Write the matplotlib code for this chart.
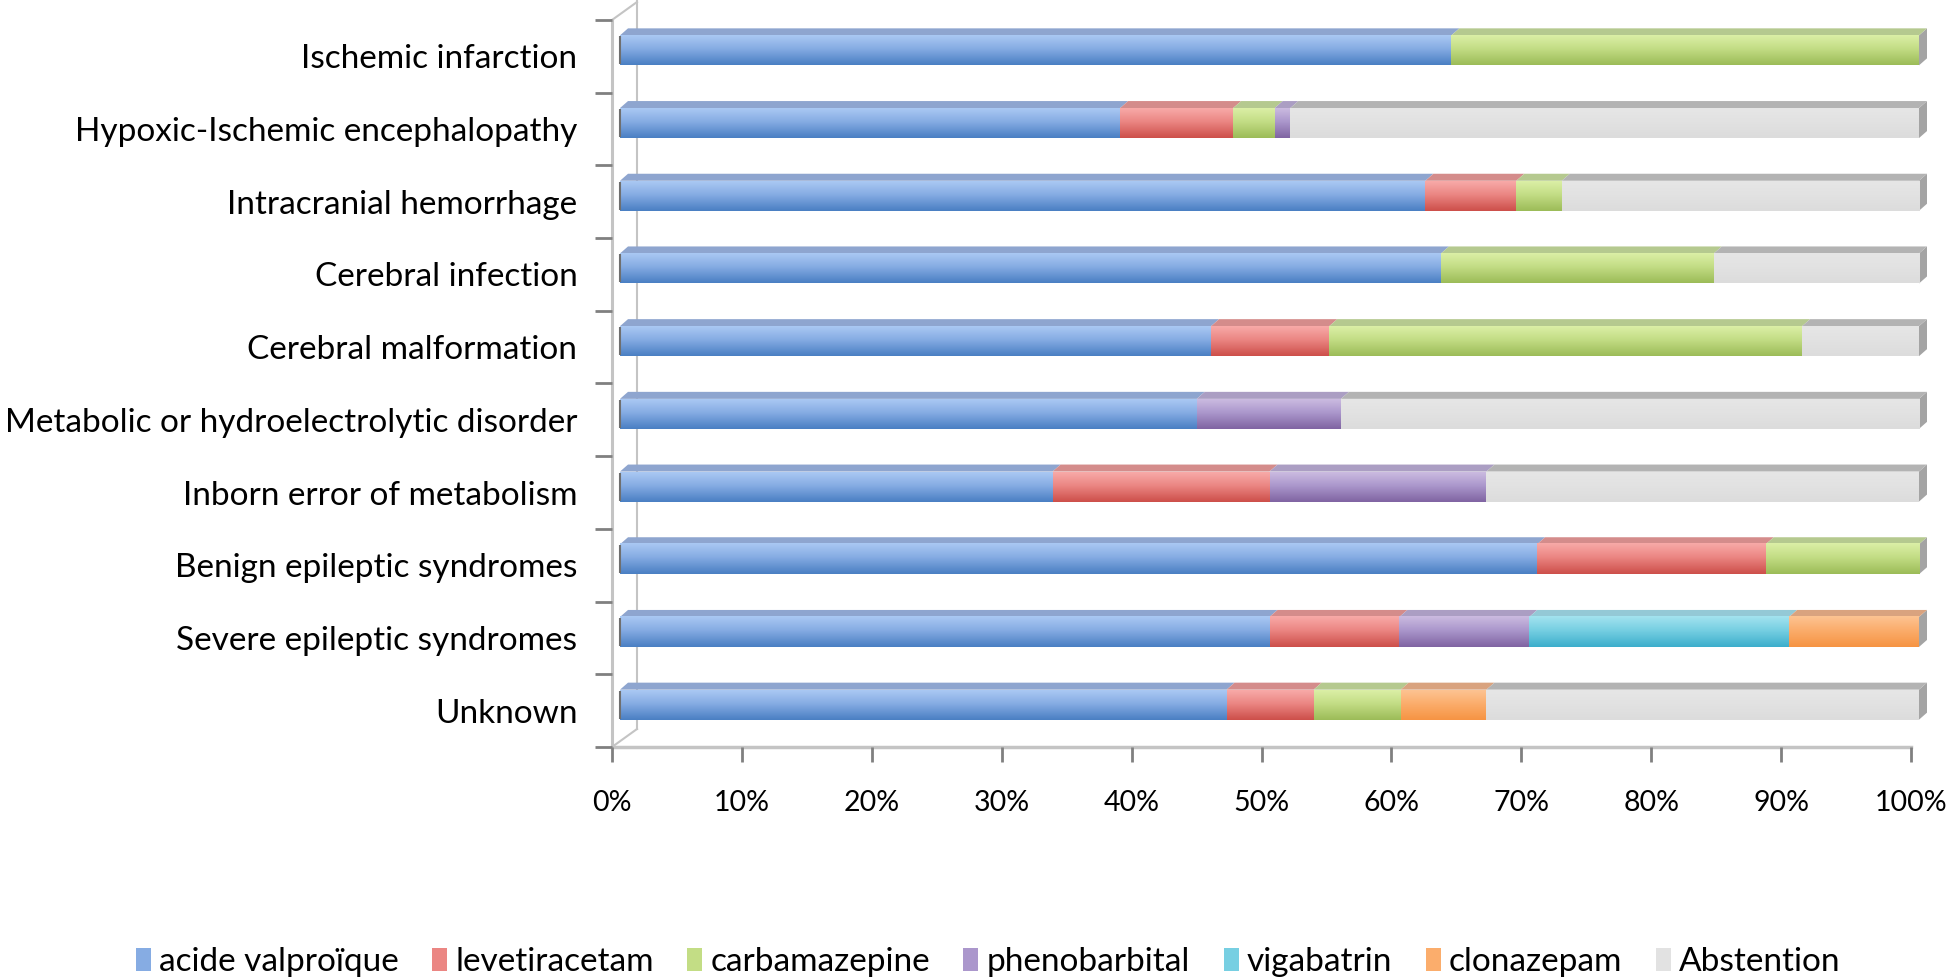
import numpy as np
import matplotlib
matplotlib.use("Agg")
import matplotlib.pyplot as plt
from matplotlib.colors import LinearSegmentedColormap
from matplotlib.patches import Polygon, Patch

plt.rcParams["font.family"] = ["Lato", "DejaVu Sans"]

# ---- data (percent of patients per etiology) ----
categories = [
    "Ischemic infarction",
    "Hypoxic-Ischemic encephalopathy",
    "Intracranial hemorrhage",
    "Cerebral infection",
    "Cerebral malformation",
    "Metabolic or hydroelectrolytic disorder",
    "Inborn error of metabolism",
    "Benign epileptic syndromes",
    "Severe epileptic syndromes",
    "Unknown",
]
valproate     = [64.0, 38.5, 62.0, 63.2, 45.5, 44.4, 33.3, 70.6, 50.0, 46.7]
levetiracetam = [0.0,  8.7,  7.0,  0.0,  9.1,  0.0, 16.7, 17.6, 10.0,  6.7]
carbamazepine = [36.0, 3.2,  3.5, 21.0, 36.4,  0.0,  0.0, 11.8,  0.0,  6.7]
phenobarbital = [0.0,  1.2,  0.0,  0.0,  0.0, 11.1, 16.7,  0.0, 10.0,  0.0]
vigabatrin    = [0.0,  0.0,  0.0,  0.0,  0.0,  0.0,  0.0,  0.0, 20.0,  0.0]
clonazepam    = [0.0,  0.0,  0.0,  0.0,  0.0,  0.0,  0.0,  0.0, 10.0,  6.6]
abstention    = [0.0, 48.4, 27.5, 15.8,  9.0, 44.5, 33.3,  0.0,  0.0, 33.3]

series_names = ["acide valproïque", "levetiracetam", "carbamazepine",
                "phenobarbital", "vigabatrin", "clonazepam", "Abstention"]
series = [valproate, levetiracetam, carbamazepine, phenobarbital,
          vigabatrin, clonazepam, abstention]

# (front top, front mid, front bottom, top face)
styles = [
    ("#aac8f3", "#86ace3", "#4a7fc3", "#8ea5cf"),
    ("#f8aaa8", "#eb8683", "#cd4f4a", "#d48c8b"),
    ("#dbefa6", "#c3dd85", "#9cbc58", "#b5c98f"),
    ("#cbbbe0", "#ab97cc", "#8064a2", "#ab9ec3"),
    ("#a3e3ef", "#77cfe2", "#3caecc", "#94c9d6"),
    ("#fdc392", "#fbad6c", "#f69443", "#d9a37f"),
    ("#e6e6e6", "#e2e2e2", "#dcdcdc", "#b3b3b3"),
]

W, H = 1946, 980
fig = plt.figure(figsize=(W / 100, H / 100), dpi=100)
L, R, T, B = 612, 1911, 20, 747
ax = fig.add_axes([L / W, 1 - B / H, (R - L) / W, (B - T) / H])
ax.set_xlim(0, 100)
ax.set_ylim(0, 10)
px_x = 100 / (R - L)
px_y = 10 / (B - T)

n = len(categories)
ypos = np.arange(n)[::-1] + 0.5
bar_h = 30 * px_y
y_front = ypos + 6 * px_y
x_shift = 8 * px_x
dx, dy = 8 * px_x, 7 * px_y

grad = np.linspace(0, 1, 64).reshape(-1, 1)
left = np.zeros(n) + x_shift
for vals, st in zip(series, styles):
    vals = np.asarray(vals)
    bars = ax.barh(y_front, vals, height=bar_h, left=left, color=st[1],
                   linewidth=0, zorder=2, clip_on=False)
    cmap = LinearSegmentedColormap.from_list("g", [(0, st[2]), (0.55, st[1]), (1, st[0])])
    for b in bars:
        w = b.get_width()
        if w <= 0:
            continue
        x0, y0, h = b.get_x(), b.get_y(), b.get_height()
        im = ax.imshow(grad, extent=[x0, x0 + w, y0, y0 + h], origin="lower",
                       cmap=cmap, aspect="auto", interpolation="bicubic", zorder=2.1)
        im.set_clip_on(False)
        top = Polygon([(x0, y0 + h), (x0 + w, y0 + h), (x0 + w + dx, y0 + h + dy),
                       (x0 + dx, y0 + h + dy)], closed=True, facecolor=st[3],
                      edgecolor="none", zorder=1.9, clip_on=False)
        ax.add_patch(top)
    left = left + vals

# right end faces and dark left edges
for yf, tot in zip(y_front, left):
    y0, y1 = yf - bar_h / 2, yf + bar_h / 2
    ax.add_patch(Polygon([(tot, y0), (tot, y1), (tot + dx, y1 + dy), (tot + dx, y0 + dy)],
                         closed=True, facecolor="#a4a4a4", edgecolor="none", zorder=1.8,
                         clip_on=False))
    ax.plot([x_shift, x_shift], [y0 + 1 * px_y, y1 - 1 * px_y], color="#6f6f6f",
            lw=1.5, zorder=2.5, solid_capstyle="butt", clip_on=False)

# 3D walls and floor
wall = "#c4c4c4"
bx = 25 * px_x
ax.plot([bx, bx], [18 * px_y, 10 + 20 * px_y], color=wall, lw=1.5, clip_on=False, zorder=1)
ax.plot([0, bx], [10, 10 + 18 * px_y], color=wall, lw=1.5, clip_on=False, zorder=1)
ax.plot([0, bx], [0, 18 * px_y], color=wall, lw=1.5, clip_on=False, zorder=1)
ax.plot([0, 0], [0, 10], color=wall, lw=2.2, clip_on=False, zorder=1)
ax.plot([0, 100], [0, 0], color=wall, lw=2.5, clip_on=False, zorder=1)

for s in ax.spines.values():
    s.set_visible(False)

ax.set_xticks(np.arange(0, 101, 10))
ax.set_xticklabels([f"{v}%" for v in range(0, 101, 10)])
ax.tick_params(axis="x", length=11, width=2, color="#808080", pad=20, labelsize=20.5)
ax.set_yticks(np.arange(0, n + 1))
ax.set_yticklabels([])
ax.tick_params(axis="y", which="major", length=12, width=2, color="#808080")
ax.set_yticks(ypos, minor=True)
ax.set_yticklabels(categories, minor=True)
ax.tick_params(axis="y", which="minor", length=0, pad=25, labelsize=24)

handles = [Patch(facecolor=st[1], edgecolor="none") for st in styles]
fig.legend(handles, series_names, loc="center", bbox_to_anchor=(988 / W, 1 - 962 / H),
           ncol=7, frameon=False, fontsize=24, handlelength=0.45, handleheight=0.7,
           handletextpad=0.25, columnspacing=1.0)

fig.savefig("out.png", dpi=100)
